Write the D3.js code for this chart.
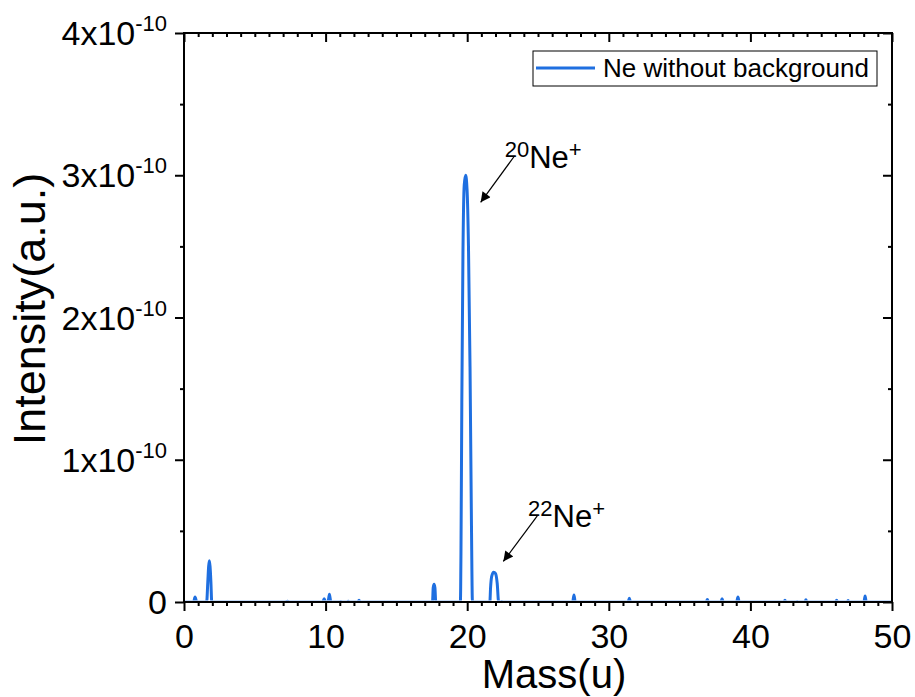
<!DOCTYPE html>
<html>
<head>
<meta charset="utf-8">
<script src="https://cdn.jsdelivr.net/npm/d3@7"></script>
<style>
body { margin: 0; background: #fff; }
svg text { font-family: "Liberation Sans", Arial, sans-serif; fill: #000; }
</style>
</head>
<body>
<div id="chart"></div>
<script>
var svgWidth = 915;
var svgHeight = 697;

var margin = {top: 33, right: 23, bottom: 95, left: 184};
var width = svgWidth - margin.left - margin.right;
var height = svgHeight - margin.top - margin.bottom;

// spectrum (intensity in units of 1e-10)
var mass = [0, 0.68, 0.78, 0.9,
    1.6, 1.68, 1.74, 1.79, 1.84, 1.9, 1.96,
    7.15, 7.3, 7.45,
    9.8, 9.9, 10.0, 10.17, 10.27, 10.37,
    11.0, 11.07, 11.14, 11.52, 11.6, 11.68, 12.28, 12.36, 12.44,
    17.55, 17.6, 17.66, 17.72, 17.78,
    19.52, 19.56, 19.62, 19.7, 19.79, 19.89, 19.99, 20.09, 20.2, 20.3, 20.37,
    21.6, 21.65, 21.73, 21.87, 22.0, 22.12, 22.22,
    22.38, 22.44, 22.5,
    27.45, 27.54, 27.63, 31.37, 31.45, 31.53,
    36.88, 36.96, 37.04, 37.92, 38.0, 38.08, 39.03, 39.12, 39.21,
    42.37, 42.44, 42.51, 43.25, 43.3, 43.35, 43.85, 43.92, 43.99,
    46.02, 46.09, 46.16, 46.83, 46.9, 46.97, 48.02, 48.1, 48.18,
    50];
var intensity = [0, 0, 0.035, 0,
    0, 0.14, 0.25, 0.29, 0.25, 0.14, 0,
    0, 0.006, 0,
    0, 0.022, 0, 0, 0.055, 0,
    0, 0.004, 0, 0, 0.005, 0, 0, 0.012, 0,
    0, 0.1, 0.125, 0.1, 0,
    0, 0.35, 1.4, 2.45, 2.93, 3.0, 2.9, 2.5, 1.65, 0.55, 0,
    0, 0.1, 0.18, 0.21, 0.2, 0.13, 0,
    0, 0.004, 0,
    0, 0.05, 0, 0, 0.026, 0,
    0, 0.017, 0, 0, 0.022, 0, 0, 0.035, 0,
    0, 0.012, 0, 0, 0.003, 0, 0, 0.016, 0,
    0, 0.013, 0, 0, 0.011, 0, 0, 0.042, 0,
    0];

var xTicks = [0, 10, 20, 30, 40, 50];
var yTicks = [0, 1, 2, 3, 4];
var yTickLabels = ["0", "1x10", "2x10", "3x10", "4x10"];
var yExponent = "-10";
var seriesName = "Ne without background";

// peak annotations (data coordinates)
var peakNotes = [
    {iso: "20", ion: "Ne", charge: "+", at: [22.65, 3.05], from: [23.3, 3.13], to: [20.95, 2.81]},
    {iso: "22", ion: "Ne", charge: "+", at: [24.3, 0.53], from: [24.95, 0.605], to: [22.55, 0.285]}
];

var lineColor = "#1f6fe0";

var svg = d3.select("#chart")
    .append("svg")
    .attr("width", svgWidth)
    .attr("height", svgHeight);

var chartGroup = svg.append("g")
    .attr("transform", `translate(${margin.left}, ${margin.top})`);

var xScale = d3.scaleLinear().domain([0, 50]).range([0, width]);
var yScale = d3.scaleLinear().domain([0, 4]).range([height, 0]);

// clip so the zero baseline hides under the bottom axis
svg.append("defs").append("clipPath")
    .attr("id", "plotClip")
    .append("rect")
    .attr("x", 0).attr("y", 0)
    .attr("width", width).attr("height", height - 1.5);

svg.select("defs").append("marker")
    .attr("id", "arrowHead")
    .attr("markerUnits", "userSpaceOnUse")
    .attr("viewBox", "0 0 10 10")
    .attr("refX", 10).attr("refY", 5)
    .attr("markerWidth", 13).attr("markerHeight", 10)
    .attr("orient", "auto")
    .append("path")
    .attr("d", "M0,0 L10,5 L0,10 Z")
    .attr("fill", "#000");

var points = mass.map((m, i) => [m, intensity[i]]);

var line = d3.line()
    .x(d => xScale(d[0]))
    .y(d => yScale(d[1]))
    .curve(d3.curveMonotoneX);

chartGroup.append("path")
    .datum(points)
    .attr("clip-path", "url(#plotClip)")
    .attr("fill", "none")
    .attr("stroke", lineColor)
    .attr("stroke-width", 3)
    .attr("stroke-linejoin", "round")
    .attr("d", line);

// axes: minor + major ticks on each side
var xMinor = d3.range(0, 51, 1).filter(v => v % 10 !== 0);
var yMinor = [0.5, 1.5, 2.5, 3.5];

function styleAxis(g) {
    g.select(".domain").remove();
    g.selectAll("line").attr("stroke", "#000").attr("stroke-width", 2);
}

chartGroup.append("g")
    .attr("transform", `translate(0, ${height})`)
    .call(d3.axisBottom(xScale).tickValues(xMinor).tickSize(4).tickFormat(""))
    .call(styleAxis);
var bottomAxis = chartGroup.append("g")
    .attr("transform", `translate(0, ${height})`)
    .call(d3.axisBottom(xScale).tickValues(xTicks).tickSize(9).tickPadding(13))
    .call(styleAxis);
bottomAxis.selectAll("text")
    .attr("font-size", "34px")
    .attr("font-family", "Liberation Sans, Arial, sans-serif");

chartGroup.append("g")
    .call(d3.axisTop(xScale).tickValues(xMinor).tickSize(-4).tickFormat(""))
    .call(styleAxis);
chartGroup.append("g")
    .call(d3.axisTop(xScale).tickValues(xTicks).tickSize(-9).tickFormat(""))
    .call(styleAxis);

chartGroup.append("g")
    .call(d3.axisLeft(yScale).tickValues(yMinor).tickSize(4).tickFormat(""))
    .call(styleAxis);
chartGroup.append("g")
    .call(d3.axisLeft(yScale).tickValues(yTicks).tickSize(9).tickFormat(""))
    .call(styleAxis);

chartGroup.append("g")
    .attr("transform", `translate(${width}, 0)`)
    .call(d3.axisRight(yScale).tickValues(yMinor).tickSize(-4).tickFormat(""))
    .call(styleAxis);
chartGroup.append("g")
    .attr("transform", `translate(${width}, 0)`)
    .call(d3.axisRight(yScale).tickValues(yTicks).tickSize(-9).tickFormat(""))
    .call(styleAxis);

// frame
chartGroup.append("rect")
    .attr("x", 0).attr("y", 0)
    .attr("width", width).attr("height", height)
    .attr("fill", "none")
    .attr("stroke", "#000")
    .attr("stroke-width", 2);

// y tick labels with superscript exponent
var yLabels = chartGroup.append("g");
yTicks.forEach(function (v, i) {
    var t = yLabels.append("text")
        .attr("x", -17)
        .attr("y", yScale(v) + 12)
        .attr("text-anchor", "end")
        .attr("font-size", "34px");
    t.append("tspan").text(yTickLabels[i]);
    if (v !== 0) {
        t.append("tspan")
            .attr("font-size", "22px")
            .attr("dy", -14)
            .text(yExponent);
    }
});

// axis titles
chartGroup.append("text")
    .attr("x", 370)
    .attr("y", height + 86)
    .attr("text-anchor", "middle")
    .attr("font-size", "40px")
    .text("Mass(u)");

chartGroup.append("text")
    .attr("transform", "rotate(-90)")
    .attr("x", -(309 - margin.top))
    .attr("y", 45 - margin.left)
    .attr("text-anchor", "middle")
    .attr("font-size", "45px")
    .text("Intensity(a.u.)");

// peak annotations
peakNotes.forEach(function (n) {
    chartGroup.append("line")
        .attr("x1", xScale(n.from[0])).attr("y1", yScale(n.from[1]))
        .attr("x2", xScale(n.to[0])).attr("y2", yScale(n.to[1]))
        .attr("stroke", "#000")
        .attr("stroke-width", 1.2)
        .attr("marker-end", "url(#arrowHead)");
    var t = chartGroup.append("text")
        .attr("x", xScale(n.at[0]))
        .attr("y", yScale(n.at[1]))
        .attr("font-size", "31px");
    t.append("tspan").attr("font-size", "22px").attr("dy", -11).text(n.iso);
    t.append("tspan").attr("dy", 11).text(n.ion);
    t.append("tspan").attr("font-size", "22px").attr("dy", -11).text(n.charge);
});

// legend
var legend = chartGroup.append("g")
    .attr("transform", `translate(${533 - margin.left}, ${51 - margin.top})`);
legend.append("rect")
    .attr("width", 344).attr("height", 35)
    .attr("fill", "#fff")
    .attr("stroke", "#000")
    .attr("stroke-width", 1);
legend.append("line")
    .attr("x1", 3).attr("x2", 62)
    .attr("y1", 17).attr("y2", 17)
    .attr("stroke", lineColor)
    .attr("stroke-width", 3);
legend.append("text")
    .attr("x", 70)
    .attr("y", 26)
    .attr("font-size", "26px")
    .text(seriesName);
</script>
</body>
</html>
